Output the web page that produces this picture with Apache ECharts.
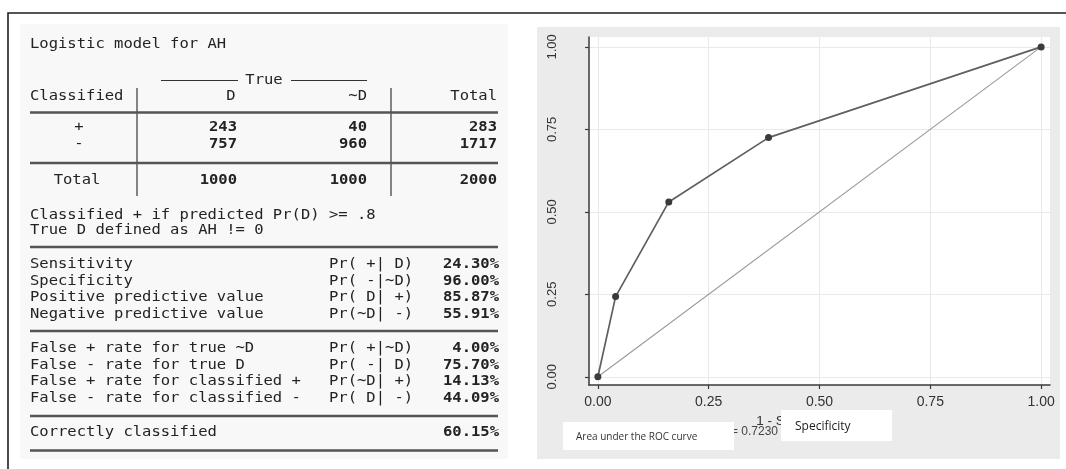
<!DOCTYPE html>
<html>
<head>
<meta charset="utf-8">
<script src="https://cdn.jsdelivr.net/npm/echarts@6/dist/echarts.min.js"></script>
<style>
  html, body { margin: 0; padding: 0; background: #ffffff; }
  #chart { width: 1066px; height: 469px; }
</style>
</head>
<body>
<div id="chart"></div>
<script>
// ROC curve of the logistic model: 1 - specificity vs. sensitivity
const rocFalsePositive = [0, 0.04, 0.16, 0.385, 1];
const rocSensitivity   = [0, 0.243, 0.53, 0.725, 1];
const referenceLine    = [[0, 0], [1, 1]];
const axisTickValues   = [0, 0.25, 0.5, 0.75, 1];
const aucText          = '= 0.7230';
const xAxisTitle       = '1 - Specificity';
const aucLabel         = 'Area under the ROC curve';
const specLabel        = 'Specificity';

// Classification table (estat classification output)
const tableTitle  = 'Logistic model for AH';
const trueHeader  = 'True';
const colHeaders  = ['Classified', 'D', '~D', 'Total'];
const rowLabels   = ['+', '-'];
const countsD     = [243, 757];
const countsNotD  = [40, 960];
const countsTotal = [283, 1717];
const totalsRow   = ['Total', 1000, 1000, 2000];
const notes = ['Classified + if predicted Pr(D) >= .8', 'True D defined as AH != 0'];

const statLabels1 = ['Sensitivity', 'Specificity', 'Positive predictive value', 'Negative predictive value'];
const statNotes1  = ['Pr( +| D)', 'Pr( -|~D)', 'Pr( D| +)', 'Pr(~D| -)'];
const statValues1 = ['24.30%', '96.00%', '85.87%', '55.91%'];
const statLabels2 = ['False + rate for true ~D', 'False - rate for true D', 'False + rate for classified +', 'False - rate for classified -'];
const statNotes2  = ['Pr( +|~D)', 'Pr( -| D)', 'Pr(~D| +)', 'Pr( D| -)'];
const statValues2 = ['4.00%', '75.70%', '14.13%', '44.09%'];
const correctLabel = 'Correctly classified';
const correctValue = '60.15%';

// ---- layout helpers for the text table ----
const MONO = '"DejaVu Sans Mono", "Liberation Mono", monospace';
const INK = '#232323';
function monoText(text, x, y, align, bold) {
  return {
    type: 'text', x: x, y: y, scaleX: 1.07, z: 5,
    style: {
      text: String(text), x: 0, y: 0, align: align || 'left', verticalAlign: 'middle',
      fontFamily: MONO, fontSize: 14.5, fontWeight: bold ? 'bold' : 'normal', fill: INK
    }
  };
}
function hRule(x1, x2, y, w, color) {
  return { type: 'line', z: 5, shape: { x1: x1, y1: y, x2: x2, y2: y }, style: { stroke: color, lineWidth: w } };
}
function vRule(x, y1, y2, w, color) {
  return { type: 'line', z: 5, shape: { x1: x, y1: y1, x2: x, y2: y2 }, style: { stroke: color, lineWidth: w } };
}

const T = {
  left: 30, right: 498,
  colD: 231, colDRight: 237, colNotD: 367, colTotal: 497, rowLabelX: 79,
  sep1: 137, sep2: 391,
  notationX: 329, valueX: 499,
  rowH: 16.8
};

const tableEls = [];
// faint backdrop behind the text output
tableEls.push({ type: 'rect', z: 1, shape: { x: 20, y: 24, width: 488, height: 435 }, style: { fill: '#f8f8f8' } });
tableEls.push(monoText(tableTitle, T.left, 44));
// "True" spanner
tableEls.push(monoText(trueHeader, 264, 80, 'center'));
tableEls.push(hRule(161, 238, 80.5, 1.2, '#333'));
tableEls.push(hRule(291, 367, 80.5, 1.2, '#333'));
// header row
tableEls.push(monoText(colHeaders[0], T.left, 96));
tableEls.push(monoText(colHeaders[1], T.colD, 96, 'center'));
tableEls.push(monoText(colHeaders[2], T.colNotD, 96, 'right'));
tableEls.push(monoText(colHeaders[3], T.colTotal, 96, 'right'));
tableEls.push(vRule(T.sep1, 88, 196, 1.3, '#444'));
tableEls.push(vRule(T.sep2, 88, 196, 1.3, '#444'));
tableEls.push(hRule(T.left, T.right, 112.5, 2.4, '#555'));
// body rows
rowLabels.forEach(function (lab, i) {
  const y = 127.5 + i * T.rowH;
  tableEls.push(monoText(lab, T.rowLabelX, y, 'center'));
  tableEls.push(monoText(countsD[i], T.colDRight, y, 'right', true));
  tableEls.push(monoText(countsNotD[i], T.colNotD, y, 'right', true));
  tableEls.push(monoText(countsTotal[i], T.colTotal, y, 'right', true));
});
tableEls.push(hRule(T.left, T.right, 163, 2.4, '#555'));
tableEls.push(monoText(totalsRow[0], 77, 180.5, 'center'));
tableEls.push(monoText(totalsRow[1], T.colDRight, 180.5, 'right', true));
tableEls.push(monoText(totalsRow[2], T.colNotD, 180.5, 'right', true));
tableEls.push(monoText(totalsRow[3], T.colTotal, 180.5, 'right', true));
// notes
notes.forEach(function (n, i) { tableEls.push(monoText(n, T.left, 215 + i * 15, 'left')); });
// statistics blocks
function statBlock(labels, notations, values, y0) {
  labels.forEach(function (lab, i) {
    const y = y0 + i * T.rowH;
    tableEls.push(monoText(lab, T.left, y));
    if (notations) tableEls.push(monoText(notations[i], T.notationX, y));
    tableEls.push(monoText(values[i], T.valueX, y, 'right', true));
  });
}
tableEls.push(hRule(T.left, T.right, 247, 2.4, '#555'));
statBlock(statLabels1, statNotes1, statValues1, 264);
tableEls.push(hRule(T.left, T.right, 331, 2.4, '#555'));
statBlock(statLabels2, statNotes2, statValues2, 348);
tableEls.push(hRule(T.left, T.right, 416, 2.4, '#555'));
statBlock([correctLabel], null, [correctValue], 432.5);
tableEls.push(hRule(T.left, T.right, 450.5, 2.4, '#555'));

// outer frame
tableEls.push({ type: 'polyline', z: 6, shape: { points: [[1066, 13], [8, 13], [8, 469]] }, style: { stroke: '#1e1e1e', lineWidth: 1.6, fill: null } });

// ---- chart panel decorations ----
const panelEls = [
  { type: 'rect', z: -100, shape: { x: 537, y: 27, width: 523, height: 432 }, style: { fill: '#ebebeb' } },
  { type: 'text', z: 50, x: 778, y: 432, style: { text: aucText, align: 'right', verticalAlign: 'middle', fontFamily: '"Liberation Sans", Arial, sans-serif', fontSize: 12, fill: '#444' } },
  { type: 'rect', z: 60, shape: { x: 563, y: 422, width: 171, height: 28 }, style: { fill: '#ffffff' } },
  { type: 'text', z: 61, x: 576, y: 437, style: { text: aucLabel, align: 'left', verticalAlign: 'middle', fontFamily: '"Open Sans", "Noto Sans", sans-serif', fontSize: 10, fill: '#333' } },
  { type: 'rect', z: 60, shape: { x: 781, y: 410, width: 111, height: 31 }, style: { fill: '#ffffff' } },
  { type: 'text', z: 61, x: 795, y: 427, style: { text: specLabel, align: 'left', verticalAlign: 'middle', fontFamily: '"Open Sans", "Noto Sans", sans-serif', fontSize: 12, fill: '#222' } }
];

const chart = echarts.init(document.getElementById('chart'), null, { renderer: 'canvas' });
const labelFont = '"Liberation Sans", Arial, sans-serif';

chart.setOption({
  animation: false,
  backgroundColor: '#ffffff',
  grid: { left: 589, right: 16, top: 37, bottom: 84, show: true, backgroundColor: '#ffffff', borderWidth: 0, containLabel: false },
  xAxis: {
    type: 'value', min: -0.02, max: 1.02,
    name: xAxisTitle, nameLocation: 'middle', nameGap: 26,
    nameTextStyle: { fontFamily: labelFont, fontSize: 13.5, color: '#333', padding: [0, 46, 0, 0] },
    axisLine: { show: true, onZero: false, lineStyle: { color: '#3a3a3a', width: 1.5 } },
    axisTick: { show: true, customValues: axisTickValues, length: 4, lineStyle: { color: '#3a3a3a', width: 1.2 } },
    axisLabel: { customValues: axisTickValues, formatter: function (v) { return v.toFixed(2); }, fontFamily: labelFont, fontSize: 14, color: '#333', margin: 10 },
    splitLine: { show: true, lineStyle: { color: '#e9e9e9', width: 1 } }
  },
  yAxis: {
    type: 'value', min: -0.025, max: 1.03,
    axisLine: { show: true, onZero: false, lineStyle: { color: '#3a3a3a', width: 1.5 } },
    axisTick: { show: true, customValues: axisTickValues, length: 4, lineStyle: { color: '#3a3a3a', width: 1.2 } },
    axisLabel: { customValues: axisTickValues, rotate: 90, formatter: function (v) { return v.toFixed(2); }, fontFamily: labelFont, fontSize: 13, color: '#333', margin: 30 },
    splitLine: { show: true, lineStyle: { color: '#e9e9e9', width: 1 } }
  },
  series: [
    {
      name: 'Reference', type: 'line', data: referenceLine, symbol: 'none', z: 2,
      lineStyle: { color: '#9a9a9a', width: 1.1 }
    },
    {
      name: 'ROC', type: 'line', z: 3,
      data: rocFalsePositive.map(function (x, i) { return [x, rocSensitivity[i]]; }),
      symbol: 'circle', symbolSize: 7,
      itemStyle: { color: '#3b3b3b' },
      lineStyle: { color: '#5f5f5f', width: 1.7 }
    }
  ],
  graphic: { elements: panelEls.concat(tableEls) }
});
</script>
</body>
</html>
